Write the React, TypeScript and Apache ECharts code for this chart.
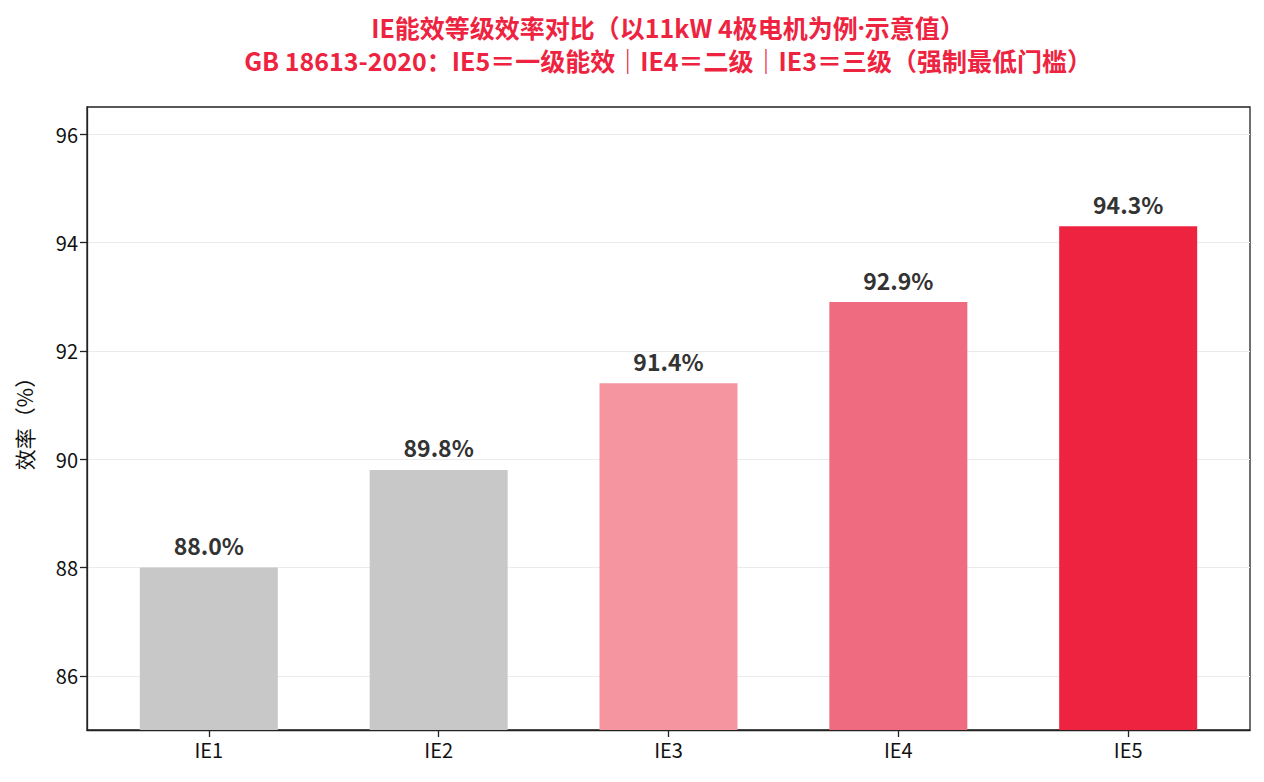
import React, { useEffect, useRef } from 'react';
import * as echarts from 'echarts';

const categories = ['IE1', 'IE2', 'IE3', 'IE4', 'IE5'];
const efficiency = [88.0, 89.8, 91.4, 92.9, 94.3];
const barColors = ['#c8c8c8', '#c8c8c8', '#f4959f', '#ef6b7f', '#ee233f'];
const yTicks = [86, 88, 90, 92, 94, 96];
const xTicks = [0, 1, 2, 3, 4];

// the middle dot is drawn with a latin font so it stays narrow
const titleLine1 = '{a|IE能效等级效率对比（以11kW 4极电机为例}{d|·}{a|示意值）}';
const titleLine2 = 'GB 18613-2020：IE5＝一级能效｜IE4＝二级｜IE3＝三级（强制最低门槛）';

const FONT = '"Noto Sans CJK SC", "Noto Sans", sans-serif';
const RED = '#ee233f';

const App: React.FC = () => {
  const chartRef = useRef<HTMLDivElement>(null);

  useEffect(() => {
    if (!chartRef.current) return;
    const chart = echarts.init(chartRef.current, undefined, { renderer: 'svg' });

    const option: echarts.EChartsOption = {
      animation: false,
      backgroundColor: '#fff',
      textStyle: { fontFamily: FONT },
      graphic: [
        {
          type: 'text',
          x: 668,
          y: 27,
          style: {
            text: titleLine1,
            align: 'center',
            verticalAlign: 'middle',
            rich: {
              a: { fill: RED, font: `bold 25px ${FONT}` },
              d: { fill: RED, font: 'bold 25px "Noto Sans", sans-serif' },
            },
          } as any,
        },
        {
          type: 'text',
          x: 668,
          y: 60,
          style: {
            text: titleLine2,
            align: 'center',
            verticalAlign: 'middle',
            fill: RED,
            font: `bold 25px ${FONT}`,
          },
        },
      ],
      grid: {
        left: 87,
        right: 14,
        top: 107,
        bottom: 52,
        show: true,
        borderColor: '#222',
        borderWidth: 1.3,
        backgroundColor: 'transparent',
      },
      xAxis: {
        type: 'value',
        min: -0.53,
        max: 4.53,
        axisLine: { show: true, onZero: false, lineStyle: { color: '#222', width: 1.3 } },
        axisTick: { show: true, length: 7, customValues: xTicks, lineStyle: { color: '#222', width: 1.3 } },
        axisLabel: {
          customValues: xTicks,
          formatter: (v: number) => categories[Math.round(v)] ?? '',
          color: '#111',
          fontSize: 20,
          margin: 9,
        },
        splitLine: { show: false },
      },
      yAxis: {
        type: 'value',
        min: 85,
        max: 96.5,
        name: '效率（%）',
        nameLocation: 'middle',
        nameGap: 53,
        nameRotate: 90,
        nameTextStyle: { fontSize: 21, color: '#111' },
        axisLine: { show: true, onZero: false, lineStyle: { color: '#222', width: 1.3 } },
        axisTick: { show: true, length: 7, customValues: yTicks, lineStyle: { color: '#222', width: 1.3 } },
        axisLabel: { customValues: yTicks, color: '#111', fontSize: 20, margin: 9 },
        splitLine: { show: true, lineStyle: { color: '#ebebeb', width: 1.2 } },
      },
      series: [
        {
          type: 'bar',
          barWidth: 138,
          data: efficiency.map((v, i) => ({
            value: [i, v],
            itemStyle: { color: barColors[i] },
          })),
          label: {
            show: true,
            position: 'top',
            distance: 11,
            formatter: (p: any) => `${p.value[1].toFixed(1)}%`,
            fontSize: 23,
            fontWeight: 'bold',
            color: '#333',
          },
        },
      ],
    };

    chart.setOption(option);
    return () => {
      chart.dispose();
    };
  }, []);

  return (
    <div
      ref={chartRef}
      style={{ position: 'fixed', left: 0, top: 0, width: '1264px', height: '782px' }}
    />
  );
};

export default App;
